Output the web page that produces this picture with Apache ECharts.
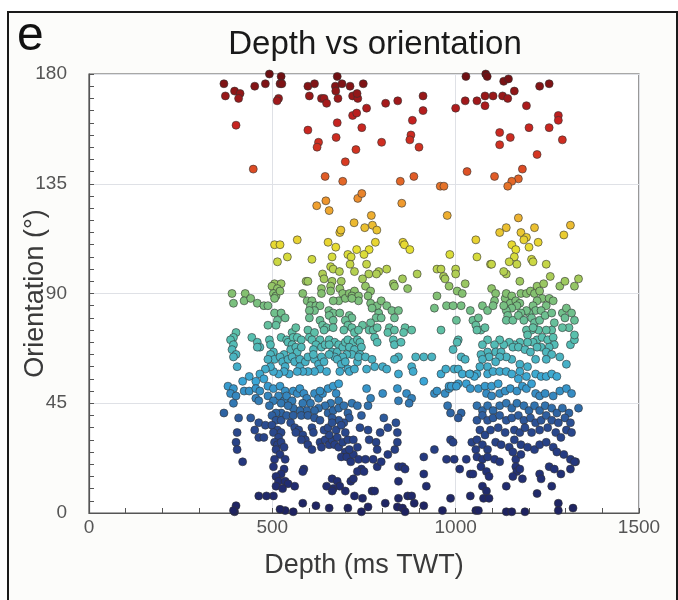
<!DOCTYPE html>
<html><head><meta charset="utf-8">
<script src="https://cdn.jsdelivr.net/npm/echarts@6/dist/echarts.min.js"></script>
<style>html,body{margin:0;padding:0;background:#fff}#c{width:678px;height:600px}</style>
</head><body><div id="c"></div>
<script>
// Axis ticks
const depthTicks = [0, 500, 1000, 1500];
const orientationTicks = [0, 45, 90, 135, 180];

// Points: [depth (ms TWT), orientation (deg)]
const highAngles = [
[368,176],[372,171],[397,173],[412,172],[408,170],[401,159],[452,175],[481,176],[492,180],[524,179],[521,176],[526,176],[517,170],[513,169],[448,141],[597,175],[615,176],[601,171],[634,170],[641,170],[648,168],[677,179],[672,175],[673,173],[690,176],[679,170],[712,175],[719,171],[733,170],[731,172],[748,176],[757,166],[719,163],[730,164],[744,158],[677,160],[597,157],[626,152],[622,150],[674,154],[728,149],[699,144],[644,138],[692,136],[733,129],[744,131],[621,126],[646,128],[655,124],[770,122],[723,119],[752,117],[773,118],[684,115],[687,116],[785,116],
[506,110],[521,110],[568,112],[652,111],[673,109],[730,108],[764,108],[781,111],
[1028,179],[1082,180],[1086,179],[1131,177],[1144,178],[1229,175],[1255,176],[809,168],[842,169],[911,171],[911,165],[882,161],[798,152],[878,155],[875,153],[900,150],[1000,166],[1026,169],[1058,169],[1080,171],[1080,167],[1102,171],[1128,171],[1142,170],[1160,173],[1193,167],[1280,163],[1280,161],[1200,158],[1255,158],[1291,153],[1120,156],[1149,154],[1120,151],[1222,147],[1182,141],[1031,140],[1106,138],[1171,137],[1153,136],[1142,134],[849,136],[886,138],[958,134],[968,134],[853,127],[977,122],[1171,121],[1215,117],[1138,117],[1313,118],[1295,114],[1120,115],[1178,115],[1193,113],[1186,112],[1055,112],[1225,111],[1153,110],[1200,109],[856,111],[860,110],[875,108]
];

const shallowMid = [
[541,105],[514,103],[608,104],[663,105],[706,106],[715,105],[750,106],[712,102],[757,102],[659,101],[666,100],[683,99],[724,99],[763,98],[790,99],[784,98],[812,100],[746,96],[830,94],[833,93],[637,98],[641,96],[663,95],[659,93],[688,95],[592,95],[597,95],[506,94],[499,93],[524,94],[514,92],[503,90],[510,89],[521,91],[506,88],[390,90],[394,86],[426,90],[423,87],[441,88],[459,86],[477,85],[488,85],[583,90],[634,92],[659,91],[634,90],[684,92],[692,90],[681,87],[666,87],[699,88],[710,90],[724,91],[717,89],[735,89],[735,87],[717,88],[754,93],[768,91],[761,89],[595,87],[608,87],[604,85],[619,85],[630,85],[615,83],[654,83],[666,82],[655,81],[684,82],[710,81],[717,80],[768,86],[786,85],[797,87],[812,85],[772,84],[790,82],[783,80],[797,80],[768,78],[826,83],[844,83],[833,80],[506,82],[524,82],[535,80],[514,79],[510,77],[488,77],[601,83],[601,80],[630,79],[637,77],[666,79],[648,76],[641,75],[666,76],[699,79],[706,77],[695,75],[717,76],[724,74],[746,77],[735,75],[764,75],[775,75],[786,76],[819,76],[815,74],[833,75],[830,71],[401,74],[394,72],[386,71],[444,72],[492,71],[459,70],[466,68],[459,68],[394,69],[390,67],[401,65],[394,64],[495,69],[503,66],[495,65],[506,63],[524,72],[539,71],[543,70],[554,74],[564,76],[557,72],[568,72],[579,71],[554,69],[550,67],[564,68],[568,66],[579,68],[597,75],[601,72],[615,74],[608,71],[630,71],[619,69],[612,67],[634,68],[644,69],[655,71],[670,70],[681,69],[655,69],[663,66],[677,66],[692,68],[699,70],[706,71],[721,70],[732,71],[739,70],[710,68],[724,67],[743,68],[739,65],[717,65],[703,65],[692,64],[670,64],[655,65],[779,72],[786,70],[833,69],[844,64],[833,63],[532,65],[521,64],[528,62],[543,63],[535,60],[554,64],[561,62],[575,63],[575,60],[590,62],[597,64],[615,63],[626,61],[634,64],[641,62],[612,65],[630,59],[648,58],[615,58],[597,58],[583,58],[568,58],[546,57],[532,58],[517,57],[503,58],[495,60],[481,59],[488,63],[677,63],[688,61],[699,62],[706,59],[684,58],[710,58],[724,59],[732,62],[735,64],[754,64],[772,63],[779,60],[757,59],[801,60],[812,59],[844,57],[404,60],[466,57],[477,55],[437,56],[419,54],[455,54]
];

const shallowLow = [
[379,52],[394,51],[386,49],[401,48],[394,45],[423,50],[437,50],[455,51],[466,50],[455,47],[463,46],[488,52],[503,51],[521,52],[517,48],[488,48],[503,46],[492,44],[535,50],[532,46],[524,45],[539,48],[557,50],[554,46],[568,49],[575,51],[586,49],[594,47],[604,45],[583,45],[615,49],[626,47],[637,49],[630,50],[652,51],[666,52],[681,53],[674,49],[681,46],[659,45],[644,44],[626,43],[615,42],[594,42],[575,42],[557,43],[543,44],[524,41],[510,41],[499,40],[510,38],[524,38],[539,40],[557,40],[579,40],[597,40],[615,39],[630,38],[652,41],[666,42],[681,43],[695,44],[706,41],[710,39],[695,37],[681,38],[663,39],[717,45],[732,44],[743,40],[761,44],[768,47],[757,51],[801,49],[841,51],[844,46],[368,41],[408,39],[404,33],[401,29],[404,26],[419,21],[441,39],[463,37],[452,34],[463,31],[477,31],[481,36],[499,36],[514,34],[503,33],[524,33],[517,31],[506,29],[514,28],[524,29],[532,27],[510,26],[521,24],[535,22],[506,22],[550,37],[561,35],[572,34],[583,32],[590,30],[579,30],[564,33],[608,35],[612,33],[597,28],[608,26],[630,29],[634,27],[644,30],[655,28],[663,30],[655,32],[641,34],[652,35],[663,37],[674,34],[688,36],[677,31],[670,28],[681,27],[692,29],[699,25],[688,23],[703,23],[714,21],[721,24],[710,26],[706,30],[699,33],[721,30],[732,27],[735,22],[743,18],[732,17],[750,17],[739,35],[761,34],[764,30],[783,29],[786,26],[775,22],[754,22],[786,19],[797,21],[815,24],[834,26],[841,29],[841,33],[815,35],[837,37],[804,39],[794,33],[503,19],[532,18],[524,16],[510,15],[517,13],[535,13],[543,12],[510,11],[528,10],[586,18],[583,17],[663,14],[677,13],[684,11],[666,10],[648,11],[714,13],[721,14],[772,9],[779,9],[746,6],[724,7],[699,9],[663,9],[619,3],[583,4],[557,0.5],[535,1],[521,1.5],[503,7],[484,7],[463,7],[401,3],[397,0.5],[394,1],[561,11],[844,6],[841,2.5],[808,4],[743,0.5],[706,2],[655,2],[761,2.5],[844,19],[844,13]
];

const deepMid = [
[984,106],[1058,105],[1095,102],[1098,102],[1164,108],[1160,105],[1146,103],[1167,102],[1207,104],[1211,103],[1247,102],[1138,98],[1131,99],[1175,95],[1258,97],[1284,93],[1298,95],[1324,93],[1335,96],[855,96],[869,92],[895,98],[949,100],[960,100],[967,97],[971,96],[1000,100],[1000,98],[982,93],[1026,94],[1004,91],[1018,90],[949,89],[1098,92],[1109,90],
[1106,87],[1135,88],[1138,90],[1153,89],[1149,86],[1164,87],[1178,90],[1193,90],[1175,86],[1204,91],[1215,90],[1222,93],[1229,91],[1240,94],[1236,88],[1255,88],[1266,87],[1247,85],[1222,87],[1211,85],[1218,83],[1233,83],[1200,82],[1193,83],[1178,82],[1167,85],[1153,84],[1138,83],[1131,85],[1142,81],[1138,79],[1156,79],[1171,81],[1186,79],[1207,80],[1215,78],[1229,79],[1244,81],[1262,82],[1291,82],[1302,84],[1298,80],[1316,82],[1324,79],[1309,76],[1291,76],[1269,78],[1262,75],[1247,75],[1226,75],[1207,75],[1193,75],[1211,76],[1196,73],[1222,71],[1236,72],[1251,71],[1266,72],[1269,69],[1255,68],[1233,68],[1211,70],[1196,70],[1175,70],[1160,69],[1146,70],[1131,69],[1120,71],[1106,69],[1087,71],[1073,69],[1087,66],[1109,66],[1124,66],[1156,68],[1171,68],[1189,67],[1204,66],[1222,68],[1247,66],[1262,65],[1284,64],[1313,69],[1324,71],[1324,73],[1302,61],[1247,63],[1218,63],[1196,60],[1175,61],[1153,63],[1138,64],[1120,64],[1109,62],[1091,64],[1069,65],[1073,63],[1087,60],[1066,60],[1058,57],[1087,57],[1102,58],[1120,58],[1138,58],[1153,57],[1175,58],[1193,56],[1171,55],[1218,57],[1233,56],[1247,56],[1262,57],[1276,56],
[942,84],[975,85],[993,85],[1015,85],[1040,83],[1047,79],[1062,80],[1055,77],[1069,75],[1080,76],[1058,75],[1073,85],[1087,83],[1102,85],[960,75],[1002,79],[862,76],[880,75],[858,74],[851,70],[1007,71],[1004,70],[993,67],[891,64],[913,64],[935,64],[880,60],[884,58],[1015,64],[1026,63],[996,59],[1007,59],[960,57],[973,59],[1040,57],[1051,56],[913,54]
];

const deepLow = [
[866,49],[880,47],[873,45],[942,49],[949,50],[971,49],[982,51],[996,52],[1007,53],[1029,53],[1040,51],[1062,51],[1080,52],[1098,52],[1116,53],[1084,49],[1098,48],[1120,49],[1135,50],[1149,51],[1167,50],[1182,52],[1193,51],[1207,53],[1218,49],[1229,48],[1244,49],[1266,48],[1284,50],[1302,51],[1316,49],[1058,44],[1073,42],[1087,44],[1102,42],[1120,44],[1138,45],[1153,43],[1167,45],[1186,44],[1200,42],[1215,44],[1229,42],[1244,44],[1262,43],[1276,41],[1291,43],[1309,41],[1335,43],[978,44],[986,41],[1015,41],[1007,39],[1058,38],[1073,40],[1087,38],[1102,39],[1120,40],[1138,38],[1153,39],[1171,40],[1186,38],[1204,39],[1218,37],[1233,38],[1247,40],[1262,38],[1280,37],[1298,39],[1313,37],[1066,34],[1080,32],[1095,34],[1116,35],[1135,33],[1160,34],[1175,33],[1189,35],[1207,33],[1229,34],[1251,35],[1273,33],[1287,31],[1302,34],[1316,33],[986,30],[993,29],[1044,29],[1058,30],[1073,28],[1087,26],[1109,29],[1124,28],[1146,27],[1160,30],[1178,28],[1196,27],[1215,26],[1229,28],[1247,29],[1266,27],[1276,25],[1295,24],[1313,22],[1327,21],[942,26],[975,22],[996,22],[1029,22],[1055,26],[1058,23],[1073,22],[1087,23],[1106,22],[1120,21],[1164,22],[1178,24],[1156,25],[1011,18],[1040,16],[1047,16],[1069,19],[1084,17],[1091,15],[1164,19],[1167,17],[1175,18],[1156,15],[1182,14],[1229,16],[1233,14],[1255,19],[1269,18],[1287,16],[1313,18],[1324,21],[913,23],[913,16],[920,11],[855,19],[862,18],[1073,11],[1084,9],[1076,6],[1091,6],[1138,11],[1222,8],[1262,11],[1280,4],[1320,2],[869,7],[880,7],[887,4],[855,2],[862,0.5],[913,3],[964,1],[986,6],[1040,7],[1055,1],[1062,1],[1138,0.5],[1153,0.5],[1189,0.5],[1280,1],[982,52],[988,52],[1002,52],[1018,57],[1038,57]
];

// Colour scale for orientation
const orientationColours = ['#1e225f','#23337a','#2a4b90','#3aa5d6','#58c0b0','#84c070','#e6e032','#f0a030','#d83a22','#c42020','#6b0f12'];

const allPoints = [].concat(highAngles, shallowMid, shallowLow, deepMid, deepLow);
const FONT = 'Liberation Sans, Arial, Helvetica, sans-serif';

const chart = echarts.init(document.getElementById('c'), null, {renderer: 'canvas'});
chart.setOption({
  animation: false,
  backgroundColor: '#ffffff',
  textStyle: {fontFamily: FONT},
  graphic: [
    {type: 'rect', z: -10, silent: true, shape: {x: 8, y: 12, width: 669, height: 600}, style: {fill: '#fcfcfa', stroke: '#1a1a1a', lineWidth: 2}},
    {type: 'text', left: 17, top: 13, silent: true, style: {text: 'e', fontSize: 48, fill: '#111', fontFamily: FONT}}
  ],
  title: {
    text: 'Depth vs orientation', left: 370, top: 23, textAlign: 'center',
    textStyle: {fontSize: 33, fontWeight: 'normal', color: '#1a1a1a', fontFamily: FONT}
  },
  grid: {left: 89, right: 39, top: 74, bottom: 87, containLabel: false, outerBoundsMode: 'none', show: true, backgroundColor: '#ffffff', borderColor: '#555', borderWidth: 1.2},
  visualMap: {show: false, type: 'continuous', dimension: 1, min: 0, max: 180, inRange: {color: orientationColours}},
  xAxis: {
    type: 'value', min: depthTicks[0], max: depthTicks[depthTicks.length - 1], interval: 500,
    name: 'Depth (ms TWT)', nameLocation: 'middle', nameGap: 39, nameMoveOverlap: false,
    nameTextStyle: {fontSize: 27, color: '#3a3a3a', fontFamily: FONT},
    axisLine: {show: true, lineStyle: {color: '#555', width: 1.2}},
    axisTick: {show: true, inside: true, length: 5, lineStyle: {color: '#555'}},
    minorTick: {show: true, splitNumber: 5, length: 5, lineStyle: {color: '#555'}},
    axisLabel: {fontSize: 19, color: '#555', margin: 5, fontFamily: FONT, formatter: v => String(v)},
    splitLine: {show: true, lineStyle: {color: '#dfe1e6', width: 1}}
  },
  yAxis: {
    type: 'value', min: orientationTicks[0], max: orientationTicks[orientationTicks.length - 1], interval: 45,
    name: 'Orientation (°)', nameLocation: 'middle', nameGap: 40, nameRotate: 90, nameMoveOverlap: false,
    nameTextStyle: {fontSize: 27, color: '#3a3a3a', fontFamily: FONT},
    axisLine: {show: true, lineStyle: {color: '#555', width: 1.2}},
    axisTick: {show: true, inside: true, length: 5, lineStyle: {color: '#555'}},
    minorTick: {show: true, splitNumber: 9, length: 5, lineStyle: {color: '#555'}},
    axisLabel: {fontSize: 19, color: '#555', margin: 22, fontFamily: FONT, formatter: v => String(v)},
    splitLine: {show: true, lineStyle: {color: '#dfe1e6', width: 1}}
  },
  series: [{
    type: 'scatter', data: allPoints, symbol: 'circle', symbolSize: 8,
    itemStyle: {borderColor: '#333', borderWidth: 0.6, opacity: 1}
  }]
});
</script>
</body></html>
